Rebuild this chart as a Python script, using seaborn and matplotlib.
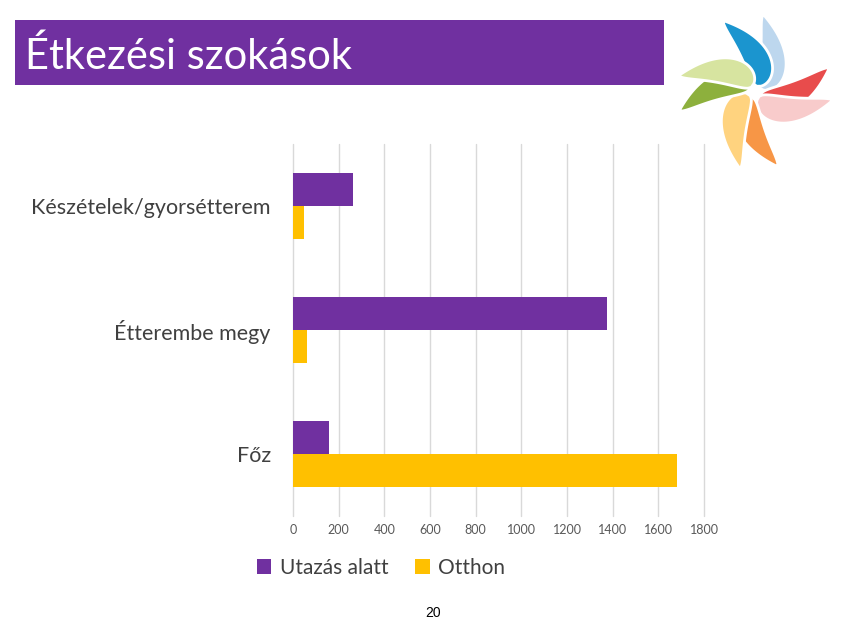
import numpy as np
import pandas as pd
import matplotlib
matplotlib.use('Agg')
import matplotlib.pyplot as plt
import seaborn as sns
from matplotlib.patches import Rectangle, Polygon

# Adatok
kategoriak = ['Készételek/gyorsétterem', 'Étterembe megy', 'Főz']
sorozatok = ['Utazás alatt', 'Otthon']
utazas_alatt = [263, 1377, 156]
otthon = [50, 60, 1682]
x_ticks = [0, 200, 400, 600, 800, 1000, 1200, 1400, 1600, 1800]
cim = 'Étkezési szokások'
oldalszam = '20'

szinek = {'Utazás alatt': '#7030A0', 'Otthon': '#FFC000'}

df = pd.DataFrame({
    'kategoria': kategoriak * 2,
    'sorozat': [sorozatok[0]] * 3 + [sorozatok[1]] * 3,
    'ertek': utazas_alatt + otthon,
})

sns.set_theme(style='white')
plt.rcParams['font.family'] = ['Lato', 'DejaVu Sans']

fig = plt.figure(figsize=(8.48, 6.36), dpi=100)
ax = fig.add_axes([0.3455, 0.1887, 0.4847, 0.5849])

sns.barplot(data=df, y='kategoria', x='ertek', hue='sorozat', order=kategoriak,
            hue_order=sorozatok, palette=szinek, orient='h', width=0.53,
            linewidth=0, saturation=1, ax=ax, zorder=3)

ax.set_xlim(0, 1800)
ax.set_ylim(2.5, -0.5)
ax.set_xticks(x_ticks)
ax.set_xticklabels([str(t) for t in x_ticks], fontsize=9, color='#595959')
ax.tick_params(axis='y', labelsize=15.5, labelcolor='#404040', length=0, pad=16)
ax.tick_params(axis='x', length=0, pad=6)
ax.xaxis.grid(True, color='#D9D9D9', linewidth=1)
ax.set_axisbelow(True)
for gl in ax.get_xgridlines():
    gl.set_clip_on(False)
ax.set_xlabel('')
ax.set_ylabel('')
for s in ax.spines.values():
    s.set_visible(False)

# jelmagyarázat
leg = ax.legend(loc='center', ncol=2, frameon=False, fontsize=15, handlelength=0.7,
                handleheight=0.7, handletextpad=0.4, columnspacing=1.3,
                bbox_to_anchor=(381 / 848, 1 - 568 / 636),
                bbox_transform=fig.transFigure)
for szoveg in leg.get_texts():
    szoveg.set_color('#404040')

# címsáv
fig.patches.append(Rectangle((15 / 848, 1 - 85 / 636), 649 / 848, 65 / 636,
                             transform=fig.transFigure, facecolor='#7030A0',
                             edgecolor='none', zorder=0))
fig.text(25 / 848, 1 - 69 / 636, cim, color='white', fontsize=30, va='baseline', ha='left')

fig.text(433 / 848, 1 - 613 / 636, oldalszam, fontsize=10, ha='center', va='center',
         family=['Liberation Sans', 'DejaVu Sans'], color='black')

# logó (szélforgó)
lax = fig.add_axes([(755 - 90) / 848, 1 - (92 + 90) / 636, 180 / 848, 180 / 636])
lax.set_xlim(-90, 90)
lax.set_ylim(-90, 90)
lax.set_aspect('equal')
lax.axis('off')
szirmok = [
    (84, '#BDD7EE'), (114, '#1B95CF'), (18, '#E84C4C'), (-6, '#F8CBCB'),
    (-73, '#F79646'), (-101, '#FFD37F'), (-166, '#8DB03D'), (168, '#D7E4A0'),
]
t = np.linspace(0, 1, 60)
for szog, szin in szirmok:
    hajlas = np.deg2rad(40)
    theta = np.deg2rad(szog) - hajlas * (1 - t) ** 1.3
    r = 6 + 72 * t
    cx, cy = r * np.cos(theta), r * np.sin(theta)
    w = 19 * np.sin(np.pi * t ** 0.7) ** 0.8
    nx, ny = -np.sin(theta), np.cos(theta)
    bal = np.column_stack([cx + nx * w * 0.6, cy + ny * w * 0.6])
    jobb = np.column_stack([cx - nx * w * 0.9, cy - ny * w * 0.9])[::-1]
    lax.add_patch(Polygon(np.vstack([bal, jobb]), closed=True, facecolor=szin,
                          edgecolor='white', linewidth=2))

fig.savefig('out.png', dpi=100)
